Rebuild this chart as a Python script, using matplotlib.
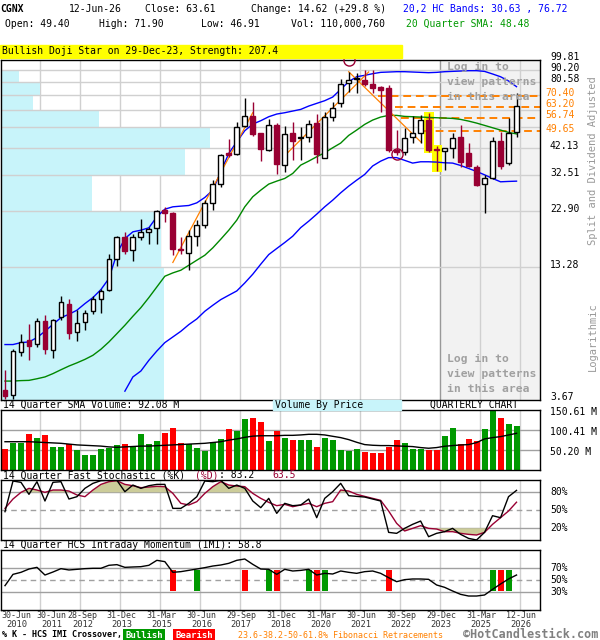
import numpy as np
import matplotlib
matplotlib.use('Agg')
import matplotlib.pyplot as plt
import matplotlib.transforms as mtransforms
from matplotlib.ticker import NullLocator

plt.rcParams['font.family'] = 'DejaVu Sans Mono'

# ---- quarterly candles, 30-Jun-2010 .. 12-Jun-2026 ----
open_ = [4.04, 3.82, 5.83, 6.52, 6.32, 7.85, 5.92, 8.19, 9.32, 7.07,
         7.80, 8.68, 9.72, 10.61, 14.44, 17.72, 15.76, 17.83, 18.60, 19.34,
         23.10, 22.45, 15.92, 15.26, 18.06, 20.10, 24.66, 29.67, 40.11, 39.85,
         52.32, 57.66, 48.72, 41.43, 52.83, 35.68, 49.04, 46.50, 46.86, 53.70,
         38.45, 56.92, 65.23, 79.23, 82.60, 81.84, 78.46, 76.70, 75.97, 41.43,
         40.76, 46.85, 48.71, 55.46, 41.69, 41.02, 42.10, 46.85, 40.10, 35.30,
         29.76, 31.45, 45.36, 36.38, 49.40]
high = [4.90, 6.01, 6.96, 7.67, 8.13, 8.32, 8.05, 10.01, 9.79, 8.74,
        8.74, 10.04, 10.79, 15.06, 17.94, 18.72, 18.41, 21.17, 19.66, 23.25,
        23.87, 22.74, 17.83, 19.02, 21.10, 25.47, 30.94, 39.85, 46.10, 54.21,
        68.92, 66.29, 48.90, 56.00, 54.04, 52.48, 54.57, 51.98, 55.47, 58.61,
        60.14, 66.29, 82.64, 88.50, 87.32, 90.20, 90.20, 76.90, 77.95, 50.33,
        51.14, 57.67, 58.22, 59.18, 43.20, 42.37, 48.71, 52.82, 44.20, 35.80,
        32.48, 47.16, 49.50, 56.36, 71.90]
low = [3.70, 3.68, 5.59, 5.41, 6.11, 5.69, 5.49, 7.98, 6.61, 6.46,
       7.24, 8.46, 8.54, 10.51, 13.44, 15.06, 14.12, 17.37, 16.60, 16.71,
       20.56, 14.91, 15.06, 12.89, 16.34, 19.47, 23.10, 29.00, 38.82, 39.46,
       51.98, 47.46, 37.34, 41.16, 32.80, 33.56, 37.58, 37.58, 44.63, 36.39,
       38.20, 55.11, 62.75, 72.59, 71.88, 77.45, 71.88, 60.14, 40.76, 39.46,
       39.46, 44.49, 44.20, 40.76, 33.88, 34.10, 38.19, 35.00, 35.00, 29.20,
       22.52, 31.20, 34.44, 36.00, 46.91]
close = [3.78, 5.86, 6.42, 6.16, 7.85, 6.00, 7.93, 9.42, 7.01, 7.75,
         8.54, 9.72, 10.51, 14.44, 17.72, 15.56, 17.83, 18.66, 19.15, 22.96,
         22.37, 15.81, 15.66, 18.06, 20.10, 24.66, 29.67, 39.46, 39.46, 51.64,
         57.66, 48.56, 41.96, 52.83, 36.15, 48.40, 45.37, 46.90, 53.35, 39.85,
         57.29, 62.53, 78.46, 81.84, 83.20, 78.46, 75.97, 74.26, 41.43, 40.50,
         46.40, 48.71, 55.46, 41.42, 41.42, 42.10, 46.40, 36.98, 35.45, 29.48,
         31.64, 45.36, 35.57, 48.99, 63.61]

# volume in millions
volume = [52.7, 67.8, 67.8, 90.4, 80.3, 87.9, 57.7, 57.7, 65.3, 50.2,
          37.7, 37.7, 52.7, 55.2, 62.8, 65.3, 60.2, 90.4, 65.3, 72.8,
          92.9, 105.4, 67.8, 65.3, 55.2, 47.7, 70.3, 77.8, 102.9, 97.9,
          128.0, 130.5, 120.5, 72.8, 97.9, 80.3, 75.3, 75.3, 75.3, 57.7,
          80.3, 75.3, 50.2, 47.7, 52.7, 45.2, 42.7, 42.7, 57.7, 75.3,
          67.8, 52.7, 52.7, 50.2, 50.2, 85.3, 105.4, 65.3, 77.8, 72.8,
          102.9, 150.6, 130.5, 115.5, 110.0]
vol_sma = [71, 71, 71, 71, 70, 69, 68, 67, 65, 63,
           62, 61, 60, 58, 57, 58, 59, 60, 60, 61,
           62, 63, 64, 65, 66, 67, 69, 71, 75, 78,
           82, 85, 86, 86, 86, 87, 87, 88, 89.6, 89.6,
           88.0, 84.6, 81.3, 76.3, 69.6, 63.8, 62.1, 61.3, 61.3, 60.5,
           59.6, 58.8, 56.3, 54.6, 56.3, 59.6, 61.3, 62.8, 63.8, 68.8,
           78.0, 81.3, 83.8, 87.9, 92.08]

# 20,2 HC bands and 20 quarter SMA
upper_band = [6.26, 6.26, 6.38, 6.42, 6.70, 7.12, 7.62, 8.13, 8.40, 8.74,
              9.32, 9.88, 10.68, 11.89, 15.16, 17.54, 18.72, 19.02, 19.47, 21.66,
              23.33, 23.87, 24.03, 24.18, 24.81, 26.14, 28.07, 33.56, 40.11, 44.92,
              50.00, 53.35, 55.11, 57.29, 58.80, 59.56, 60.54, 61.52, 63.55, 65.23,
              66.94, 69.36, 74.74, 80.53, 84.53, 85.64, 87.04, 88.17, 88.46, 88.74,
              88.74, 88.46, 88.17, 87.90, 88.17, 88.74, 89.03, 89.32, 89.62, 89.62,
              89.00, 86.80, 84.50, 81.10, 76.72]
lower_band = [np.nan] * 15 + [
              3.98, 4.57, 4.84, 5.37, 5.88, 6.38, 6.74, 7.12, 7.60, 8.03,
              8.65, 9.17, 9.69, 10.11, 10.54, 11.39, 12.40, 13.67, 15.01, 15.92,
              16.87, 17.94, 19.50, 20.76, 22.22, 23.87, 25.46, 27.35, 29.18, 30.93,
              32.69, 35.50, 37.20, 38.50, 38.50, 37.50, 36.51, 36.98, 36.98, 36.86,
              36.62, 36.51, 35.68, 34.66, 33.66, 32.58, 31.45, 30.44, 30.55, 30.63]
sma20 = [4.39, 4.39, 4.41, 4.42, 4.49, 4.57, 4.72, 4.90, 5.08, 5.24,
         5.42, 5.64, 5.98, 6.42, 6.96, 7.55, 8.24, 8.96, 9.88, 10.96,
         12.16, 12.56, 12.89, 13.53, 14.21, 14.91, 16.02, 17.43, 19.02, 20.97,
         23.87, 26.32, 28.07, 29.77, 30.64, 31.45, 33.01, 35.80, 37.22, 38.82,
         40.37, 42.37, 44.34, 47.77, 50.32, 53.17, 55.46, 57.10, 58.04, 58.04,
         57.47, 57.29, 57.10, 56.91, 56.73, 56.55, 56.36, 55.82, 54.92, 53.86,
         52.66, 51.47, 50.32, 49.19, 48.48]

# 14 quarter fast stochastic
stoch_k = [47.7, 98.8, 96.6, 76.6, 97.7, 65.5, 96.6, 97.7, 68.8, 72.7,
           86.6, 94.9, 99.4, 100, 100, 81.0, 92.1, 86.6, 91.0, 93.2,
           93.2, 53.2, 53.2, 61.6, 72.7, 98.8, 97.7, 100, 86.6, 92.1,
           86.6, 65.5, 54.4, 69.9, 44.9, 61.6, 57.7, 58.8, 68.8, 37.7,
           69.9, 81.0, 94.9, 74.4, 73.2, 72.1, 68.8, 65.5, 13.2, 11.6,
           19.9, 26.6, 32.1, 6.0, 11.6, 14.4, 19.9, 9.9, 3.2, 0.5,
           13.2, 41.0, 37.7, 72.7, 83.2]
stoch_d = [53.2, 68.8, 79.9, 86.6, 83.8, 79.9, 83.8, 83.8, 82.1, 75.5,
           72.7, 83.8, 93.2, 97.7, 99.4, 93.2, 91.0, 87.7, 88.8, 89.9,
           89.4, 78.2, 61.6, 58.8, 64.4, 78.2, 89.4, 97.7, 92.1, 90.4,
           89.4, 78.2, 69.9, 63.2, 57.7, 59.9, 56.0, 58.8, 61.6, 56.0,
           61.6, 64.4, 83.8, 82.1, 76.6, 73.2, 69.9, 66.6, 48.8, 28.3,
           15.5, 19.9, 24.4, 19.9, 18.8, 14.4, 14.4, 11.6, 9.9, 8.8,
           13.2, 26.6, 37.7, 48.8, 63.5]

# 14 quarter HCS intraday momentum
imi = [41.1, 59.9, 63.3, 68.8, 71.6, 58.8, 63.8, 69.4, 67.2, 68.3,
       69.4, 70.0, 70.0, 75.0, 76.1, 71.6, 72.2, 72.7, 75.0, 83.3,
       81.1, 63.3, 64.4, 66.6, 68.8, 71.1, 73.8, 75.5, 78.3, 83.3,
       85.5, 76.6, 68.8, 68.3, 59.9, 68.3, 65.5, 66.5, 68.3, 58.8,
       61.6, 60.5, 65.5, 63.3, 61.6, 64.4, 65.5, 61.6, 54.4, 47.7,
       51.1, 52.2, 52.2, 51.6, 42.2, 38.3, 32.2, 26.6, 23.8, 23.8,
       25.5, 34.9, 43.8, 52.2, 58.8]
imi_bull = [24, 33, 38, 40, 61, 63]
imi_bear = [21, 30, 34, 39, 48, 62]

# volume by price
vbp_edges = [3.67, 13.28, 22.90, 32.51, 42.13, 51.74, 61.35, 70.97, 80.58, 90.20, 99.81]
vbp_volume = [164, 161, 92, 185, 210, 99, 33, 40, 19, 0]

# fibonacci retracements, trend lines, pivots, pattern
fib_levels = [70.40, 63.20, 56.74, 49.65]
fib_start = [46.7, 48.8, 49.5, 52.3]
trend_x0 = [21.0, 34.85, 43.0]
trend_p0 = [13.9, 38.8, 88.7]
trend_x1 = [31.0, 45.5, 52.1]
trend_p1 = [59.6, 88.5, 44.6]
pivot_idx = [43, 49]
pivot_price = [99.4, 39.8]
pattern_idx = [53, 54]

price_ticks = [3.67, 13.28, 22.90, 32.51, 42.13, 51.74, 61.35, 70.97, 80.58, 90.20, 99.81]
price_labels_shown = [3.67, 13.28, 22.90, 32.51, 42.13, 80.58, 90.20, 99.81]
vol_ticks = [50.20, 100.41, 150.61]
date_labels = ['30-Jun', '30-Jun', '28-Sep', '31-Dec', '31-Mar', '30-Jun', '29-Sep',
               '31-Dec', '31-Mar', '30-Jun', '30-Sep', '29-Dec', '31-Mar', '12-Jun']
year_labels = ['2010', '2011', '2012', '2013', '2015', '2016', '2017',
               '2018', '2020', '2021', '2022', '2023', '2025', '2026']

RED = '#990033'
ORANGE = '#ff8000'
GRID = '#d0d0d0'
W, H = 600, 640

fig = plt.figure(figsize=(W / 100, H / 100), dpi=100)


def add_ax(top, bottom, left=0.5, right=540):
    a = fig.add_axes([left / W, 1 - bottom / H, (right - left) / W, (bottom - top) / H])
    a.set_xticks([])
    a.set_yticks([])
    for s in a.spines.values():
        s.set_linewidth(1)
    return a


def ftext(x, y, s, **kw):
    kw.setdefault('va', 'center')
    kw.setdefault('fontsize', 7)
    fig.text(x / W, 1 - y / H, s, **kw)


def right_labels(a, ticks, fmt, dx, dy, **kw):
    tr = mtransforms.offset_copy(a.get_yaxis_transform(), fig=fig, x=dx, y=dy, units='dots')
    for t in ticks:
        a.text(1.0, t, fmt.format(t), transform=tr, ha='left', va='center',
               fontsize=7, clip_on=False, **kw)


n = np.arange(len(close))
o, h, l, c = map(np.array, (open_, high, low, close))
up = c >= o
xlo, xhi = -0.5625, 66.9375
grid_x = [5 * k - 0.5625 for k in range(len(date_labels))]

# ---------------- price panel ----------------
ax = add_ax(59.6, 399.5)
ax.set_yscale('log')
ax.yaxis.set_minor_locator(NullLocator())
ax.set_yticks([])
ax.set_ylim(3.67, 99.81)
ax.set_xlim(xlo, xhi)

ax.axvspan(grid_x[11], xhi, color='#f2f2f2', zorder=0)
for g in grid_x[1:]:
    ax.axvline(g, color='#999999' if g == grid_x[11] else GRID, lw=1, zorder=0.5)
vmax = max(vbp_volume)
ax.barh(vbp_edges[:-1], [v / vmax * 210 / 8 for v in vbp_volume],
        height=np.diff(vbp_edges), left=xlo, align='edge', color='#c8f4fa', zorder=1)
for t in price_ticks[1:-1]:
    ax.axhline(t, color=GRID, lw=1, zorder=1.5)

for txt, yy in [('Log in to', 67), ('view patterns', 82), ('in this area', 97),
                ('Log in to', 359), ('view patterns', 374), ('in this area', 389)]:
    ftext(447, yy, txt, fontsize=8.2, fontweight='bold', color='#a0a0a0', zorder=2)

# pattern highlight
for p in pattern_idx:
    ax.bar(p, h[p] * 1.01 - l[p] * 0.99, bottom=l[p] * 0.99, width=1.25,
           color='#ffff00', zorder=2)

# fib lines
for lv, st in zip(fib_levels, fib_start):
    ax.plot([st, xhi], [lv, lv], color=ORANGE, lw=1.4, ls=(0, (4, 2.5)), zorder=2.5)

ax.plot(n, upper_band, color='#0000ff', lw=1, zorder=3)
ax.plot(n, lower_band, color='#0000ff', lw=1, zorder=3)
ax.plot(n, sma20, color='#008800', lw=1, zorder=3)
for x0, p0, x1, p1 in zip(trend_x0, trend_p0, trend_x1, trend_p1):
    ax.plot([x0, x1], [p0, p1], color=ORANGE, lw=0.9, zorder=3.5)

wick_col = np.where(up, 'black', RED)
ax.vlines(n, l, h, colors=wick_col, lw=1, zorder=4)
bh = np.maximum(np.abs(c - o), 0.001)
ax.bar(n[up], bh[up], bottom=np.minimum(o, c)[up], width=0.6,
       facecolor='white', edgecolor='black', lw=1, zorder=5)
ax.bar(n[~up], bh[~up], bottom=np.minimum(o, c)[~up], width=0.6,
       facecolor=RED, edgecolor=RED, lw=1, zorder=5)
ax.plot(pivot_idx, pivot_price, ls='none', marker='o', ms=8, mfc='none',
        mec=RED, mew=1, zorder=6, clip_on=False)

right_labels(ax, price_labels_shown, '{:.2f}', 10, 2.5)
right_labels(ax, fib_levels, '{:.2f}', 5, 2.5, color=ORANGE)
ftext(593, 161, 'Split and Dividend Adjusted', rotation=90, ha='center', color='#999999', fontsize=7.5)
ftext(593, 337, 'Logarithmic', rotation=90, ha='center', color='#999999', fontsize=7.5)

# ---------------- header ----------------
ftext(0, 9, 'CGNX', fontweight='bold')
ftext(69, 9, '12-Jun-26')
ftext(145, 9, 'Close: 63.61')
ftext(251, 9, 'Change: 14.62 (+29.8 %)')
ftext(403, 9, '20,2 HC Bands: 30.63 , 76.72', color='#0000ff')
ftext(5, 24, 'Open: 49.40')
ftext(99, 24, 'High: 71.90')
ftext(201, 24, 'Low: 46.91')
ftext(291, 24, 'Vol: 110,000,760')
ftext(406, 24, '20 Quarter SMA: 48.48', color='#009900')
fig.patches.append(plt.Rectangle((0, 1 - 57.5 / H), 402 / W, 13 / H, transform=fig.transFigure,
                                 color='#ffff00', zorder=0))
ftext(2, 51, 'Bullish Doji Star on 29-Dec-23, Strength: 207.4')

# ---------------- volume panel ----------------
axv = add_ax(410, 470)
axv.set_xlim(xlo, xhi)
axv.set_ylim(0, 150.61)
for g in grid_x[1:]:
    axv.axvline(g, color=GRID, lw=1, zorder=0)
for t in vol_ticks[:-1]:
    axv.axhline(t, color='#a0a0a0', lw=1, zorder=0.5)
axv.bar(n, volume, width=0.75, color=np.where(up, '#009900', '#ff0000'), zorder=1)
axv.plot(n, vol_sma, color='black', lw=1, zorder=2)
right_labels(axv, vol_ticks, '{:.2f} M', 10, -1.7)

ftext(3, 405, '14 Quarter SMA Volume: 92.08 M')
fig.patches.append(plt.Rectangle((273 / W, 1 - 410 / H), 128 / W, 10 / H, transform=fig.transFigure,
                                 color='#c8f4fa', zorder=0))
ftext(275, 405, 'Volume By Price')
ftext(430, 405, 'QUARTERLY CHART')

# ---------------- stochastic panel ----------------
axs = add_ax(480.3, 540.3)
axs.set_xlim(xlo, xhi)
axs.set_ylim(0, 100)
for g in grid_x[1:]:
    axs.axvline(g, color=GRID, lw=1, zorder=0)
axs.axhline(80, color='#a0a0a0', lw=1, zorder=0.5)
axs.axhline(20, color='#a0a0a0', lw=1, zorder=0.5)
axs.axhline(50, color='#a0a0a0', lw=1, ls=(0, (4, 3)), zorder=0.5)
d = np.array(stoch_d)
axs.fill_between(n, d, 80, where=d >= 80, interpolate=True, color='#cccc99', lw=0, zorder=1)
axs.fill_between(n, d, 20, where=d <= 20, interpolate=True, color='#cccc99', lw=0, zorder=1)
axs.plot(n, stoch_k, color='black', lw=1, zorder=3)
axs.plot(n, stoch_d, color=RED, lw=1, zorder=2)
right_labels(axs, [80, 50, 20], '{}%', 10, 0)
ftext(3, 475.5, '14 Quarter Fast Stochastic (%K)')
ftext(195, 475.5, '(%D)', color=RED)
ftext(219, 475.5, ': 83.2')
ftext(272, 475.5, '63.5', color=RED)

# ---------------- IMI panel ----------------
axi = add_ax(550.3, 610.3)
axi.set_xlim(xlo, xhi)
axi.set_ylim(0, 100)
for g in grid_x[1:]:
    axi.axvline(g, color=GRID, lw=1, zorder=0)
axi.axhline(70, color='#a0a0a0', lw=1, zorder=0.5)
axi.axhline(30, color='#a0a0a0', lw=1, zorder=0.5)
axi.axhline(50, color='#a0a0a0', lw=1, ls=(0, (4, 3)), zorder=0.5)
axi.bar(imi_bull, 35, bottom=32, width=0.75, color='#009900', zorder=1)
axi.bar(imi_bear, 35, bottom=32, width=0.75, color='#ff0000', zorder=1)
axi.plot(n, imi, color='black', lw=1, zorder=2)
right_labels(axi, [70, 50, 30], '{}%', 10, 0)
ftext(3, 545, '14 Quarter HCS Intraday Momentum (IMI): 58.8')

# x labels (first ones pushed right so they do not collide)
nudge_px = {0: 15, 1: 10, 2: 1}
for k, (dl, yl) in enumerate(zip(date_labels, year_labels)):
    xpx = axi.transData.transform((grid_x[k], 0))[0] + 1 + nudge_px.get(k, 0)
    ftext(xpx, 616, dl, ha='center', fontsize=6, color='#333333')
    ftext(xpx, 624.5, yl, ha='center', fontsize=6.3, color='#333333')

# footer
ftext(2, 635, '% K - HCS IMI Crossover,', fontsize=6, fontweight='bold')
ftext(144, 635, 'Bullish', fontsize=6.5, fontweight='bold', color='white', ha='center',
      bbox=dict(boxstyle='square,pad=0.2', fc='#009900', ec='none'))
ftext(194, 635, 'Bearish', fontsize=6.5, fontweight='bold', color='white', ha='center',
      bbox=dict(boxstyle='square,pad=0.2', fc='#ff0000', ec='none'))
ftext(238, 635, '23.6-38.2-50-61.8% Fibonacci Retracements', fontsize=6, color=ORANGE)
ftext(463, 634, '\u00a9HotCandlestick.com', fontsize=8.5, fontweight='bold', color='#808080')

fig.savefig('out.png', dpi=100)
